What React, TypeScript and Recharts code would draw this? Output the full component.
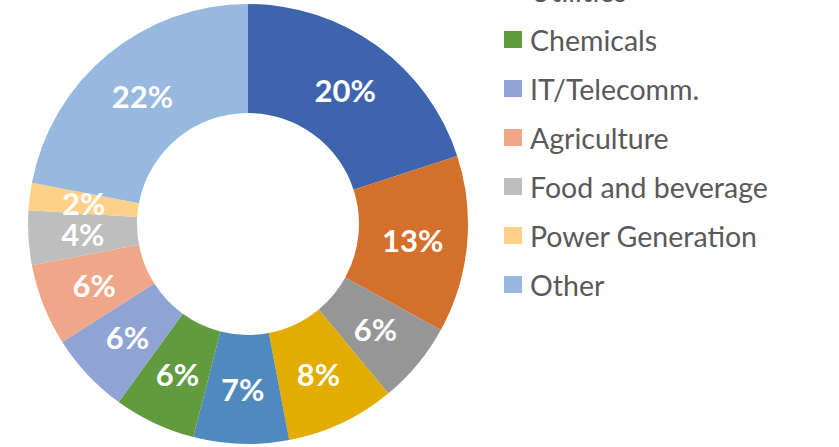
import React from "react";
import { PieChart, Pie, Cell, Legend } from "recharts";

const categories = [
  "Oil and Gas",
  "Manufacturing",
  "Mining",
  "Transportation",
  "Utilities",
  "Chemicals",
  "IT/Telecomm.",
  "Agriculture",
  "Food and beverage",
  "Power Generation",
  "Other",
];
const shares = [20, 13, 6, 8, 7, 6, 6, 6, 4, 2, 22];
const colors = [
  "#3E64AD",
  "#D3702C",
  "#969696",
  "#E2AC00",
  "#4F89BD",
  "#629A3F",
  "#8FA3D4",
  "#F0A789",
  "#BEBEBE",
  "#FDD188",
  "#97B9DF",
];

const data = categories.map((name, i) => ({ name, value: shares[i] }));

const RADIAN = Math.PI / 180;

const renderLabel = (props: any) => {
  const { cx, cy, midAngle, innerRadius, outerRadius, value } = props;
  const r = (innerRadius + outerRadius) / 2;
  const x = cx + r * Math.cos(-midAngle * RADIAN);
  const y = cy + r * Math.sin(-midAngle * RADIAN);
  return (
    <text
      x={x}
      y={y}
      fill="#FFFFFF"
      textAnchor="middle"
      dominantBaseline="central"
      style={{ fontFamily: "Lato, sans-serif", fontWeight: 700, fontSize: 31 }}
    >
      {`${value}%`}
    </text>
  );
};

const renderLegend = () => (
  <div style={{ fontFamily: "Lato, sans-serif" }}>
    {categories.map((name, i) => (
      <div
        key={name}
        style={{ height: 49, display: "flex", alignItems: "center" }}
      >
        <div
          style={{
            width: 18,
            height: 17,
            background: colors[i],
            marginRight: 8,
            flexShrink: 0,
          }}
        />
        <span style={{ fontSize: 28.5, color: "#595959", whiteSpace: "nowrap" }}>
          {name}
        </span>
      </div>
    ))}
  </div>
);

export default function App() {
  return (
    <div style={{ position: "absolute", left: 0, top: 0, width: 839, height: 447, background: "#fff" }}>
      <PieChart
        width={839}
        height={447}
        margin={{ top: 0, right: 0, bottom: 0, left: 0 }}
        style={{ overflow: "visible" }}
      >
        <Pie
          data={data}
          dataKey="value"
          nameKey="name"
          cx={248}
          cy={224}
          innerRadius={111}
          outerRadius={220}
          startAngle={90}
          endAngle={-270}
          stroke="none"
          label={renderLabel}
          labelLine={false}
          isAnimationActive={false}
        >
          {data.map((d, i) => (
            <Cell key={d.name} fill={colors[i]} />
          ))}
        </Pie>
        <Legend
          content={renderLegend}
          wrapperStyle={{ position: "absolute", left: 504, top: -230, width: 330 }}
        />
      </PieChart>
    </div>
  );
}
